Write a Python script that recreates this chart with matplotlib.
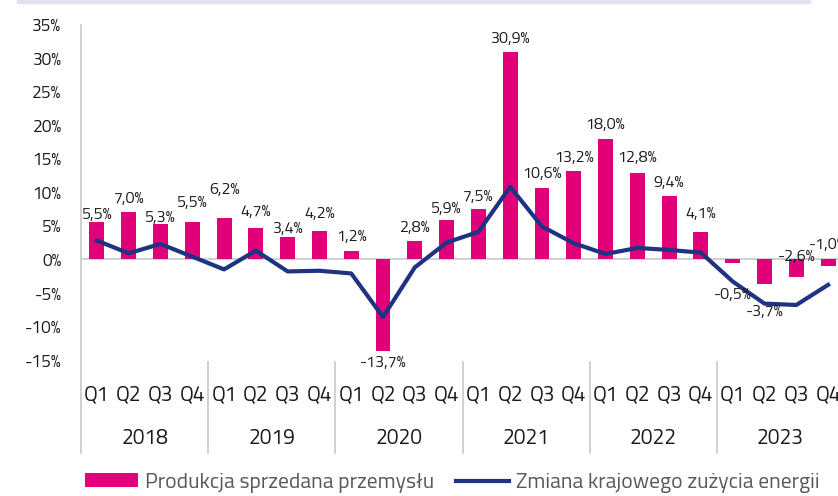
import numpy as np
import matplotlib
matplotlib.use("Agg")
import matplotlib.pyplot as plt
from matplotlib.patches import Rectangle

plt.rcParams['font.family'] = ['Titillium Web', 'DejaVu Sans']

# Dane
lata = ["2018", "2019", "2020", "2021", "2022", "2023"]
kwartaly = ["Q1", "Q2", "Q3", "Q4"]
produkcja = [5.5, 7.0, 5.3, 5.5, 6.2, 4.7, 3.4, 4.2, 1.2, -13.7, 2.8, 5.9,
             7.5, 30.9, 10.6, 13.2, 18.0, 12.8, 9.4, 4.1, -0.5, -3.7, -2.6, -1.0]
energia = [2.8, 0.9, 2.3, 0.4, -1.5, 1.3, -1.8, -1.7, -2.1, -8.6, -1.2, 2.5,
           4.1, 10.8, 4.9, 2.4, 0.8, 1.7, 1.4, 1.0, -3.3, -6.6, -6.8, -3.8]
# przesuniecie etykiet (piksele, wzgledem konca slupka)
przesuniecie = [7, 13, 6, 19, 28, 16, 8, 17, 14, -12, 13, 11,
                12, 13, 14, 13, 14, 15, 13, 18, -32, -28, 20, 21]

ROZ = "#e2007a"
GRANAT = "#1f3383"
SZARY = "#c8c8c8"

x = np.arange(len(produkcja))
etykiety_x = kwartaly * len(lata)

fig = plt.figure(figsize=(8.38, 4.96), dpi=100)
ax = fig.add_axes([81 / 838, 1 - 360 / 496, (844 - 81) / 838, 335.5 / 496])

slupki = ax.bar(x, produkcja, width=0.47, color=ROZ, label="Produkcja sprzedana przemysłu", zorder=2)
linia, = ax.plot(x, energia, color=GRANAT, lw=3, label="Zmiana krajowego zużycia energii", zorder=3)
ax.axhline(0, color=SZARY, lw=1.2, zorder=1)

for xi, v, d in zip(x, produkcja, przesuniecie):
    tekst = f"{v:.1f}%".replace(".", ",")
    ax.annotate(tekst, (xi, v), xytext=(0, d), textcoords="offset pixels",
                ha="center", va="center", fontsize=11.5, color="#1a1a1a",
                annotation_clip=False, zorder=4)

ax.set_xlim(-0.5, len(x) - 0.5)
ax.set_ylim(-15, 35)
ax.set_yticks(np.arange(-15, 36, 5))
ax.set_yticklabels([f"{t}%" for t in range(-15, 36, 5)])
ax.set_xticks(x)
ax.set_xticklabels(etykiety_x)
ax.tick_params(axis="y", length=0, pad=14, labelsize=12.5, labelcolor="#1a1a1a")
ax.tick_params(axis="x", length=0, pad=17, labelsize=15, labelcolor="#1a1a1a")
for s in ax.spines.values():
    s.set_visible(False)

# os pionowa i separatory lat
dol = -(453 - 360) / 335.5
trans = ax.get_xaxis_transform()
ax.plot([-0.5, -0.5], [1, dol], color=SZARY, lw=1.2, transform=trans, clip_on=False)
for i in range(1, len(lata)):
    ax.plot([4 * i - 0.5] * 2, [-0.006, dol], color=SZARY, lw=1.2, transform=trans, clip_on=False)
for i, rok in enumerate(lata):
    ax.text(4 * i + 1.5, -(439 - 360) / 335.5, rok, transform=trans, ha="center", va="center",
            fontsize=15, color="#1a1a1a")

# pasek u gory
fig.patches.append(Rectangle((17 / 838, 1 - 3 / 496), (810 - 17) / 838, 3 / 496,
                             transform=fig.transFigure, color="#dfe2ee", zorder=0))

fig.legend([slupki, linia], [slupki.get_label(), linia.get_label()],
           loc="center", bbox_to_anchor=(452 / 838, 1 - 483 / 496), ncol=2, frameon=False,
           fontsize=15.5, labelcolor="#595959", handlelength=2.5, handleheight=0.63,
           handletextpad=0.3, columnspacing=1.0)

fig.savefig("out.png", dpi=100)
